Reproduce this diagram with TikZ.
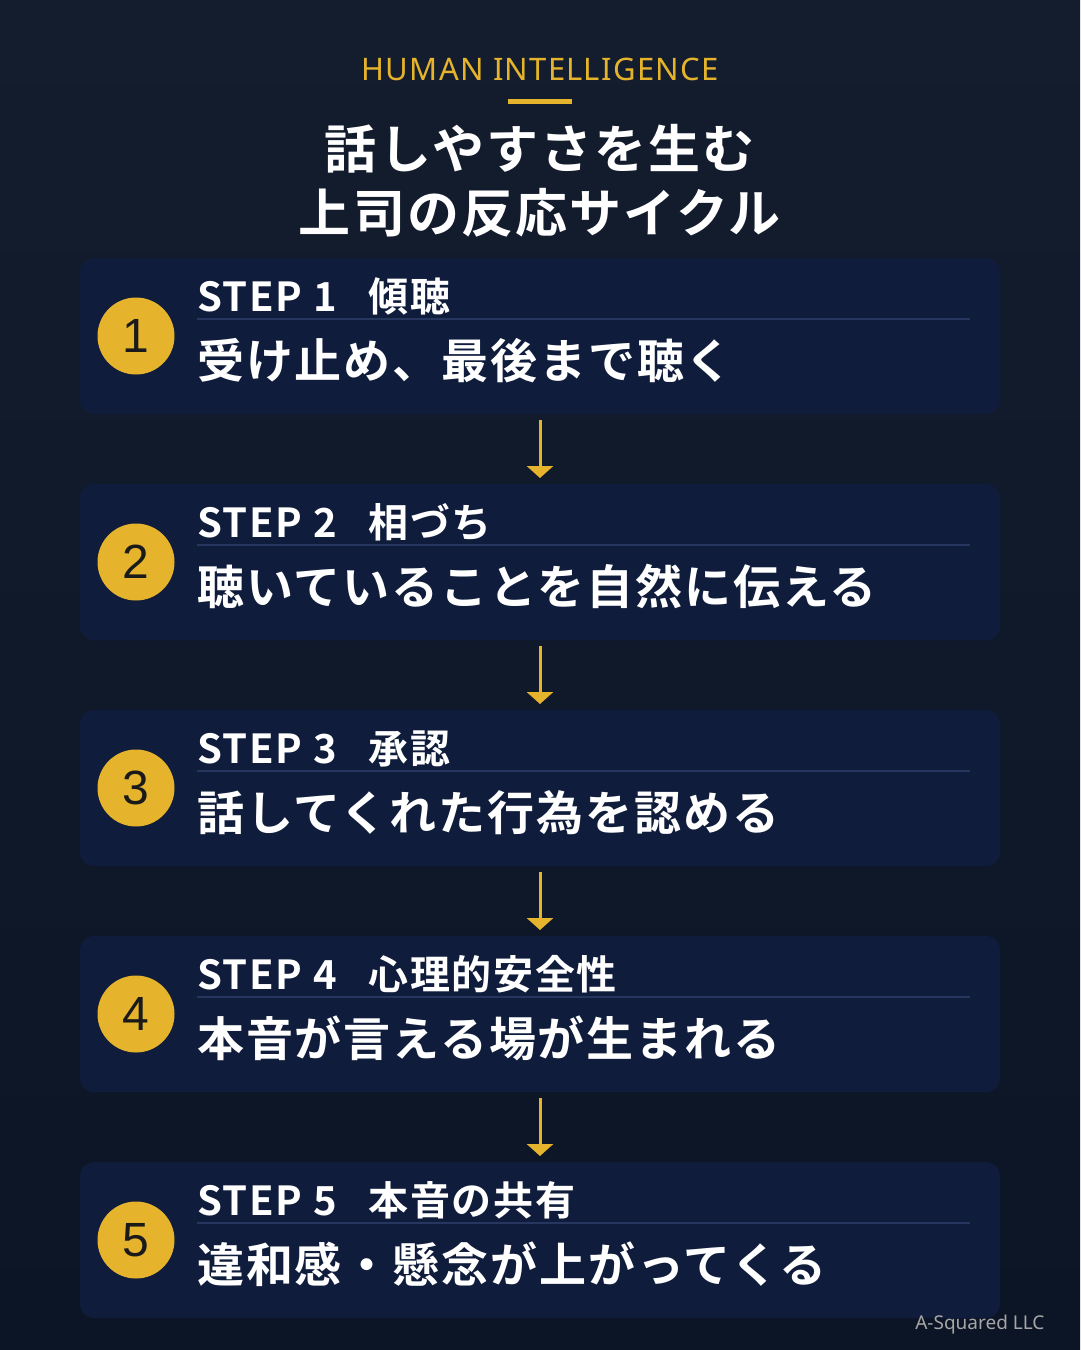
\documentclass[tikz,border=0pt]{standalone}
\usepackage{fontspec}
\setmainfont{Noto Sans CJK JP}
\newfontfamily\cjkb{Noto Sans CJK JP Bold}
\newfontfamily\cjkbs[LetterSpace=4]{Noto Sans CJK JP Bold}
\newfontfamily\latn{Noto Sans}
\newfontfamily\latns[LetterSpace=4]{Noto Sans}
\newfontfamily\arl{Liberation Sans}
\usetikzlibrary{arrows.meta}
\definecolor{bgtop}{HTML}{141D2E}
\definecolor{bgbot}{HTML}{0C1525}
\definecolor{boxc}{HTML}{0F1C3B}
\definecolor{gold}{HTML}{E5B42C}
\definecolor{linec}{HTML}{26365F}
\definecolor{numc}{HTML}{1A1A1A}
\tikzset{
  stepbox/.style={fill=boxc,rounded corners=14pt,draw=none},
  numcirc/.style={circle,fill=gold,minimum size=77pt,inner sep=0pt,font=\arl\fontsize{48}{48}\selectfont,text=numc},
  steplbl/.style={anchor=base west,text=white,inner sep=0pt,font=\cjkbs\fontsize{40}{40}\selectfont},
  mainlbl/.style={anchor=base west,text=white,inner sep=0pt,font=\cjkbs\fontsize{47}{47}\selectfont},
  flow/.style={draw=gold,line width=3pt,-{Triangle[width=26pt,length=12pt]}}
}
\begin{document}
\begin{tikzpicture}[x=1pt,y=-1pt]
\shade[top color=bgtop,bottom color=bgbot] (0,0) rectangle (1080,1350);
\useasboundingbox (0,0) rectangle (1080,1350);
\node[text=gold,font=\latns\fontsize{31}{31}\selectfont] (sup) at (540,69) {HUMAN INTELLIGENCE};
\fill[gold] (508,99) rectangle (572,104);
\node[text=white,font=\cjkbs\fontsize{52}{52}\selectfont] (t1) at (540,149) {話しやすさを生む};
\node[text=white,font=\cjkbs\fontsize{52}{52}\selectfont] (t2) at (540,213) {上司の反応サイクル};
\foreach \i/\h/\m [count=\k from 0] in {1/傾聴/受け止め、最後まで聴く,2/相づち/聴いていることを自然に伝える,3/承認/話してくれた行為を認める,4/心理的安全性/本音が言える場が生まれる,5/本音の共有/違和感・懸念が上がってくる}{
  \pgfmathsetmacro\yy{258+226*\k}
  \fill[stepbox] (80,\yy) rectangle (1000,\yy+156);
  \node[numcirc] (c\i) at (136,\yy+78) {\i};
  \node[steplbl] (s\i) at (197,\yy+53) {STEP \i\hspace{0.8em}\h};
  \draw[linec,line width=1.5pt] (197,\yy+61) -- (970,\yy+61);
  \node[mainlbl] (m\i) at (197,\yy+120) {\m};
  \coordinate (b\i) at (540,\yy+162);
  \coordinate (a\i) at (540,\yy+220);
}
\foreach \i in {1,2,3,4}{\draw[flow] (b\i) -- (a\i);}
\node[anchor=east,text=gray!70,font=\latn\fontsize{19}{19}\selectfont] (wm) at (1048,1325) {A-Squared LLC};
\end{tikzpicture}
\end{document}
